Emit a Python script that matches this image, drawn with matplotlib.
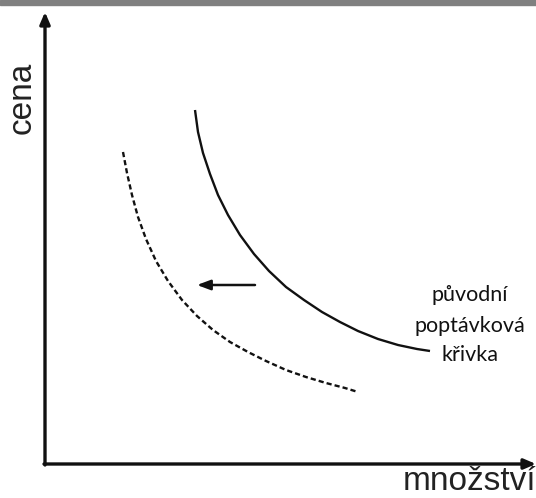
import matplotlib
matplotlib.use("Agg")
import matplotlib.pyplot as plt
from matplotlib.patches import Rectangle

# curve points (pixel-like coordinates, y grows downward)
original_x = [195, 198, 203, 210, 218, 228, 240, 254, 269, 286, 304, 322, 340, 358, 378, 398, 417, 430]
original_y = [110, 132, 153, 174, 195, 215, 235, 254, 271, 287, 300, 312, 322, 331, 339, 345, 349, 351]

shifted_x = [123, 127, 132, 138, 146, 156, 168, 182, 197, 213, 230, 248, 266, 286, 306, 326, 345, 358]
shifted_y = [152, 173, 195, 217, 239, 261, 281, 300, 316, 330, 342, 352, 361, 370, 377, 383, 388, 392]

shift_arrow_from = (255, 285)
shift_arrow_to = (197, 285)

label_lines = ["původní", "poptávková", "křivka"]
label_y = [295, 326, 355]
x_label = "množství"
y_label = "cena"

fig = plt.figure(figsize=(5.36, 4.98), dpi=100)
ax = fig.add_axes([0, 0, 1, 1])
ax.set_xlim(0, 536)
ax.set_ylim(498, 0)
ax.axis("off")

# grey strip along the top edge
fig.patches.append(Rectangle((0, 1 - 5 / 498), 1, 5 / 498, transform=fig.transFigure,
                             color="#808080", zorder=0))

# axes with arrow heads
arrow = dict(arrowstyle="-|>,head_length=0.7,head_width=0.3", color="#111111", lw=2.4,
             shrinkA=0, shrinkB=0)
ax.annotate("", xy=(45, 12), xytext=(45, 465), arrowprops=arrow)
ax.annotate("", xy=(536, 464), xytext=(44, 464), arrowprops=arrow)

ax.plot(original_x, original_y, color="#111111", lw=1.7, solid_capstyle="butt",
        solid_joinstyle="round")
ax.plot(shifted_x, shifted_y, color="#111111", lw=1.7, linestyle=(0, (2.2, 1.3)))

ax.annotate("", xy=shift_arrow_to, xytext=shift_arrow_from,
            arrowprops=dict(arrowstyle="-|>,head_length=0.8,head_width=0.3",
                            color="#111111", lw=1.8, shrinkA=0, shrinkB=0))

for text, y in zip(label_lines, label_y):
    ax.text(470, y, text, ha="center", va="center", fontsize=15.5, family="Lato",
            color="#111111")

ax.text(22, 98, y_label, rotation=90, ha="center", va="center", fontsize=24,
        family="Liberation Sans", color="#222222")
ax.text(403, 481, x_label, ha="left", va="center", fontsize=24,
        family="Liberation Sans", color="#222222")

fig.savefig("out.png", dpi=100)
